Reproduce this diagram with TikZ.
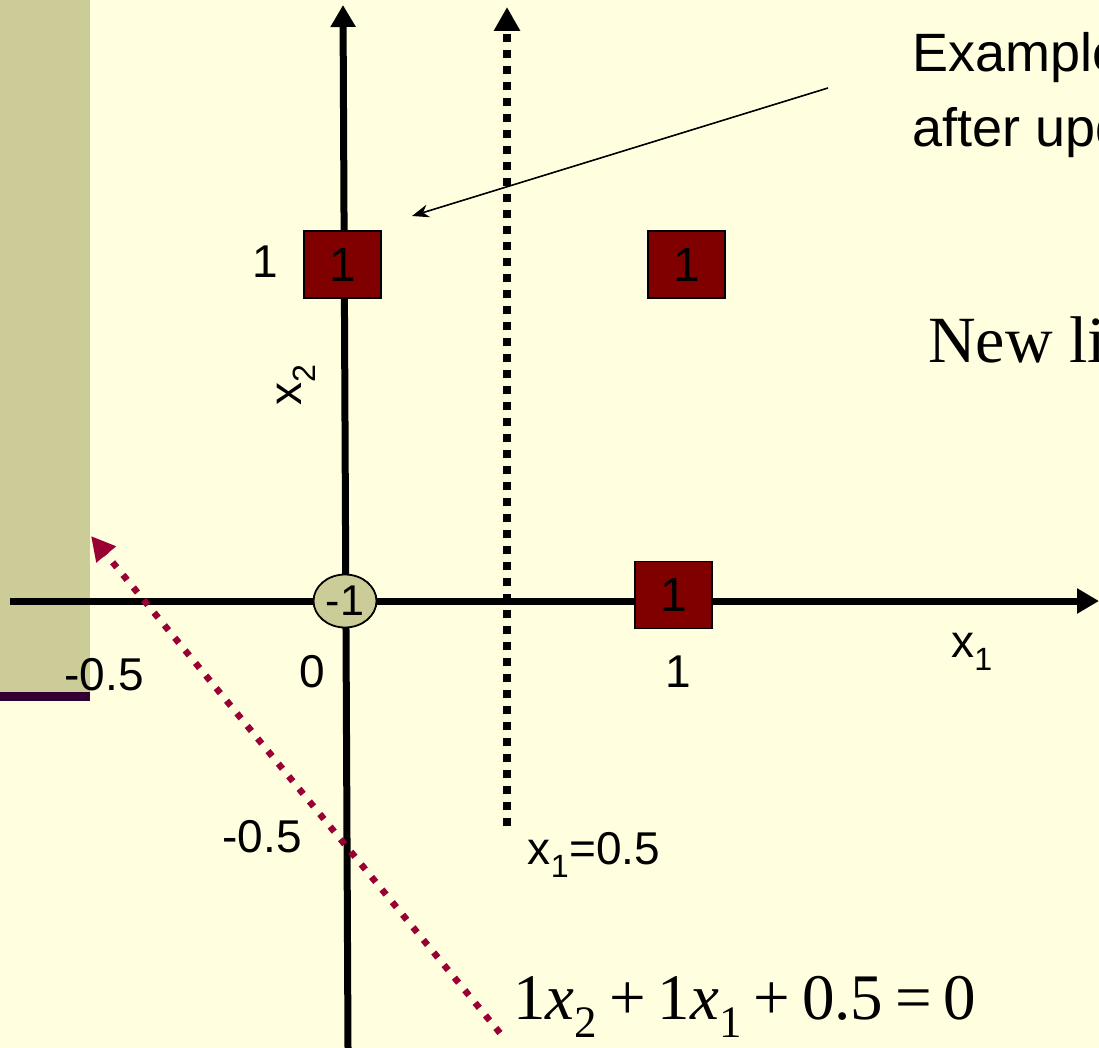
\documentclass[tikz,border=0pt]{standalone}
\usepackage{fontspec}
\setmainfont{Liberation Serif}
\setsansfont{Liberation Sans}
\usetikzlibrary{arrows.meta,shapes.geometric}
\definecolor{bg}{RGB}{255,255,224}
\definecolor{strip}{RGB}{204,204,153}
\definecolor{stripline}{RGB}{51,0,51}
\definecolor{boxred}{RGB}{128,0,0}
\definecolor{redline}{RGB}{153,0,51}
\newcommand{\lowsub}[1]{\raisebox{-18pt}{\fontsize{45}{45}\selectfont #1}}
\tikzset{
  axisline/.style={line width=7pt,-{Triangle[length=22pt,width=24pt]}},
  dotline/.style={line width=8pt,dash pattern=on 8pt off 8pt,-{Triangle[length=24pt,width=25pt]}},
  redarrow/.style={redline,line width=6.5pt,dash pattern=on 6.5pt off 9.8pt,-{Triangle[length=24pt,width=24pt]}},
  pointer/.style={line width=1.6pt,-{Stealth[length=17pt,width=13pt]}},
  posbox/.style={draw=black,line width=1.8pt,fill=boxred,minimum width=77pt,minimum height=67pt,inner sep=0pt,font=\sffamily\fontsize{48}{48}\selectfont},
  negell/.style={ellipse,draw=black,line width=1.8pt,fill=strip,minimum width=63pt,minimum height=53pt,inner sep=0pt,font=\sffamily\fontsize{43}{43}\selectfont},
  lab/.style={font=\sffamily\fontsize{46}{46}\selectfont,inner sep=0pt},
  bigsans/.style={font=\sffamily\fontsize{54}{54}\selectfont,inner sep=0pt,anchor=base west},
  bigserif/.style={font=\fontsize{66}{66}\selectfont,inner sep=0pt,anchor=base west}
}
\begin{document}
\begin{tikzpicture}[x=1pt,y=-1pt]
\useasboundingbox (0,0) rectangle (1099,1048);
\clip (0,0) rectangle (1099,1048);
\fill[bg] (0,0) rectangle (1099,1048);
\fill[strip] (0,0) rectangle (90,697);
\fill[stripline] (0,692) rectangle (90,701);
% axes
\coordinate (h0) at (10,601);
\coordinate (h1) at (1099,601);
\coordinate (v0) at (348,1048);
\coordinate (v1) at (343,5);
\draw[axisline] (h0) -- (h1);
\draw[axisline] (v0) -- (v1);
% dotted line x1=0.5
\coordinate (d0) at (507,826);
\coordinate (d1) at (507,7);
\draw[dotline] (d0) -- (d1);
% red dotted line
\coordinate (r0) at (500,1033);
\coordinate (r1) at (91,536);
\draw[redarrow] (r0) -- (r1);
% points
\node[posbox] (p1) at (342.5,264.5) {1};
\node[posbox] (p2) at (686.5,264.5) {1};
\node[posbox] (p3) at (673.5,595) {1};
\node[negell] (n1) at (345,601) {-1};
% labels
\node[lab] (l1) at (265,262) {1};
\node[lab,rotate=90] (lx2) at (296,385) {x\textsubscript{2}};
\node[lab] (l0) at (312,672) {0};
\node[lab] (lm1) at (104,675) {-0.5};
\node[lab] (l1b) at (678,672) {1};
\node[lab] (lx1) at (972,652) {x\textsubscript{1}};
\node[lab] (lm2) at (262,837) {-0.5};
\node[lab] (lxe) at (594,855) {x\textsubscript{1}=0.5};
% texts at right
\node[bigsans] (t1) at (912,72) {Example};
\node[bigsans] (t2) at (912,147) {after upd};
\node[bigserif] (t3) at (928,362) {New li};
\coordinate (pa) at (828,88);
\coordinate (pb) at (412,216);
\draw[pointer] (pa) -- (pb);
% equation
\node[font=\fontsize{65}{65}\selectfont,inner sep=0pt,anchor=base west] (eq) at (513,1019)
 {1\textit{x}\lowsub{2}\hspace{12pt}+\hspace{12pt}1\textit{x}\lowsub{1}\hspace{12pt}+\hspace{12pt}0.5\hspace{12pt}=\hspace{11pt}0};
\end{tikzpicture}
\end{document}
